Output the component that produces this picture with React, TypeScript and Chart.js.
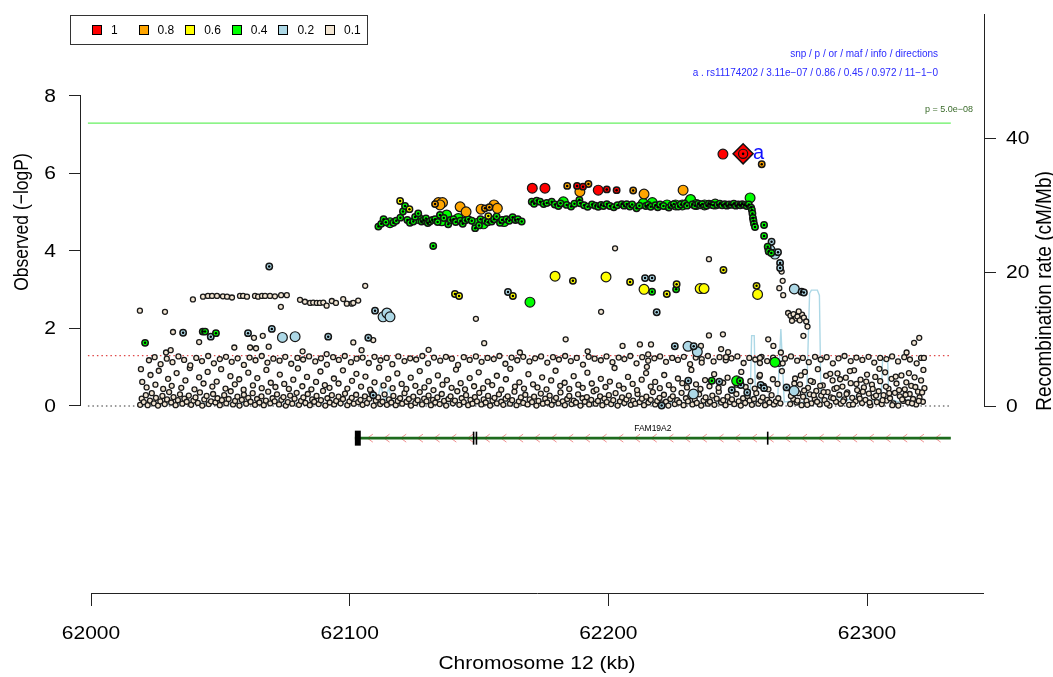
import React, { useEffect, useRef } from "react";
import { Chart, registerables } from "chart.js";

Chart.register(...registerables);

const FONT = "'Liberation Sans', Arial, Helvetica, sans-serif";
const TEXT_STRETCH = 1.2;

// Axis ticks and titles
const xTicks = [62000, 62100, 62200, 62300];
const logPTicks = [0, 2, 4, 6, 8];
const recombTicks = [0, 20, 40];
const xTitle = "Chromosome 12 (kb)";
const logPTitle = "Observed (−logP)";
const recombTitle = "Recombination rate (cM/Mb)";

// LD (r²) bins shown in the legend, strongest first
const ldBins = ["1", "0.8", "0.6", "0.4", "0.2", "0.1"];
const ldFills = ["#ff0000", "#ffa500", "#ffff00", "#00ff00", "#add8e6", "#f3e6d3"];

// Index SNP and its summary statistics
const indexTag = "a";
const indexSnp = "rs11174202";
const indexPos = 62252.1;
const indexP = 3.11e-7;
const indexOr = "0.86";
const indexMaf = "0.45";
const indexInfo = "0.972";
const indexDirections = "11−1−0";

// Reference significance levels, drawn across the locus window
const gwsP = 5.0e-8;
const nominalP = 0.05;
const windowStart = 61998.8;
const windowEnd = 62332.4;

// Gene model (kb)
const geneName = "FAM19A2";
const geneStart = 62102.0;
const geneEnd = 62332.4;
const geneExons = [
  [62102.0, 62104.3],
  [62147.6, 62148.1],
  [62148.7, 62149.2],
  [62261.3, 62261.8],
];

// Recombination rate (cM/Mb)
const recombPos = [
  62018.0, 62025.0, 62032.0, 62040.0, 62046.0, 62050.0, 62053.0, 62060.0, 62066.0, 62072.0,
  62078.0, 62086.0, 62094.0, 62100.0, 62106.0, 62109.0, 62110.5, 62112.0, 62113.5, 62115.0,
  62117.0, 62124.0, 62135.0, 62145.0, 62155.0, 62165.0, 62175.0, 62185.0, 62195.0, 62205.0,
  62215.0, 62225.0, 62235.0, 62245.0, 62254.8, 62255.4, 62256.4, 62256.9, 62262.0, 62265.4,
  62266.7, 62268.0, 62272.0, 62274.0, 62276.6, 62277.8, 62278.5, 62280.8, 62281.6, 62282.2,
  62288.0, 62292.0, 62296.0, 62300.0, 62305.5, 62306.0, 62308.0, 62308.4, 62312.0, 62318.0,
  62322.0,
];
const recombRate = [
  0.1, 0.3, 0.2, 0.6, 0.2, 1.3, 0.3, 0.4, 0.2, 0.9,
  0.3, 0.5, 0.2, 0.4, 0.3, 1.8, 0.4, 3.2, 0.6, 2.6,
  0.5, 0.3, 0.4, 0.2, 0.5, 0.3, 0.4, 0.2, 0.5, 0.3,
  0.4, 0.6, 0.3, 0.5, 0.4, 10.5, 10.5, 0.6, 0.4, 0.5,
  11.5, 0.6, 0.8, 0.5, 0.7, 16.8, 17.3, 17.3, 16.5, 0.9,
  1.4, 0.8, 1.6, 0.7, 1.0, 6.8, 6.8, 1.2, 0.6, 1.0,
  0.4,
];

// SNPs by LD bin: [position kb, -log10 p, genotyped (1) / imputed (0)]
const ld10 = [
  [62244.3, 6.5, 0], [62170.6, 5.62, 0], [62175.5, 5.62, 0], [62187.9, 5.68, 1], [62190.2, 5.66, 1],
  [62196.1, 5.57, 0], [62199.4, 5.59, 1], [62203.2, 5.57, 1],
];
const ld08 = [
  [62259.3, 6.24, 1], [62184.1, 5.68, 1], [62192.3, 5.73, 1], [62189.0, 5.53, 0], [62209.6, 5.56, 1],
  [62213.8, 5.47, 0], [62228.9, 5.57, 0], [62133.0, 5.21, 1], [62134.3, 5.25, 0], [62135.9, 5.25, 0],
  [62134.9, 5.19, 0], [62142.7, 5.14, 0], [62145.0, 5.01, 0], [62150.8, 5.08, 0], [62152.3, 5.10, 1],
  [62154.0, 5.13, 1], [62155.8, 5.19, 0], [62157.1, 5.10, 0],
];
const ld06 = [
  [62119.5, 5.29, 1], [62123.1, 5.08, 1], [62153.6, 4.90, 1], [62140.7, 2.89, 1], [62142.3, 2.84, 1],
  [62163.1, 2.84, 1], [62179.4, 3.35, 0], [62186.3, 3.23, 1], [62199.1, 3.33, 0], [62208.4, 3.20, 1],
  [62213.8, 3.01, 0], [62222.6, 2.89, 1], [62226.4, 3.14, 1], [62235.5, 3.03, 0], [62237.0, 3.03, 0],
  [62244.5, 3.51, 1], [62257.3, 3.10, 1], [62257.7, 2.88, 0],
];
const ld04 = [
  [62020.9, 1.63, 1], [62043.2, 1.92, 1], [62044.1, 1.92, 1], [62048.3, 1.88, 1], [62132.3, 4.13, 1],
  [62169.7, 2.68, 0], [62216.9, 2.95, 1], [62226.2, 3.01, 1], [62240.0, 0.65, 1], [62249.6, 0.65, 0],
  [62250.9, 0.65, 1], [62264.4, 1.13, 0],
  [62111.1, 4.63, 1], [62112.2, 4.70, 1], [62113.1, 4.82, 1], [62114.0, 4.74, 1], [62115.6, 4.73, 0],
  [62116.9, 4.73, 1], [62118.0, 4.78, 1], [62119.6, 4.86, 1], [62120.6, 5.02, 1], [62121.4, 5.16, 1],
  [62122.3, 4.80, 1], [62123.3, 4.73, 1], [62124.6, 4.76, 1], [62125.3, 4.88, 1], [62126.5, 4.97, 1],
  [62126.5, 4.84, 0], [62127.8, 4.76, 1], [62128.6, 4.80, 1], [62129.5, 4.84, 1], [62130.2, 4.72, 1],
  [62131.0, 4.76, 1], [62132.0, 4.80, 1], [62133.0, 4.82, 1], [62134.0, 4.75, 1], [62134.9, 4.93, 1],
  [62135.6, 4.78, 0], [62136.4, 4.85, 1], [62137.5, 4.93, 0], [62138.1, 4.69, 1], [62139.0, 4.80, 1],
  [62140.1, 4.82, 1], [62141.0, 4.75, 1], [62142.0, 4.84, 0], [62142.8, 4.78, 1], [62143.7, 4.70, 1],
  [62144.6, 4.79, 1], [62145.9, 4.82, 1], [62147.2, 4.78, 1], [62148.5, 4.59, 1], [62149.2, 4.71, 0],
  [62150.0, 4.66, 1], [62150.6, 4.82, 1], [62151.7, 4.70, 0], [62152.4, 4.78, 1], [62153.4, 4.74, 1],
  [62154.9, 4.76, 1], [62155.8, 4.82, 1], [62156.8, 4.89, 1], [62158.1, 4.73, 1], [62158.9, 4.80, 1],
  [62159.7, 4.76, 0], [62160.6, 4.82, 1], [62161.7, 4.78, 1], [62163.0, 4.87, 1], [62164.1, 4.80, 1],
  [62165.0, 4.82, 1], [62166.5, 4.76, 1],
  [62170.4, 5.27, 1], [62171.3, 5.22, 1], [62172.3, 5.30, 1], [62173.6, 5.27, 1], [62175.0, 5.21, 1],
  [62176.2, 5.24, 1], [62178.1, 5.27, 1], [62179.3, 5.20, 1], [62180.7, 5.16, 1], [62181.5, 5.23, 1],
  [62182.6, 5.27, 0], [62183.9, 5.19, 1], [62185.6, 5.15, 1], [62186.9, 5.22, 1], [62188.8, 5.32, 1],
  [62189.1, 5.23, 1], [62190.6, 5.18, 1], [62192.0, 5.14, 1], [62193.7, 5.20, 1], [62195.0, 5.17, 1],
  [62196.1, 5.14, 1], [62197.2, 5.19, 1], [62198.1, 5.16, 1], [62199.4, 5.21, 1], [62200.6, 5.16, 1],
  [62202.1, 5.13, 1], [62203.5, 5.18, 1], [62205.2, 5.21, 1], [62206.1, 5.17, 1], [62207.1, 5.21, 1],
  [62208.3, 5.15, 1], [62209.2, 5.20, 1], [62210.9, 5.10, 1], [62212.0, 5.17, 1], [62213.5, 5.23, 0],
  [62214.5, 5.16, 1], [62215.4, 5.19, 1], [62216.4, 5.14, 1], [62217.0, 5.25, 0], [62218.2, 5.18, 1],
  [62219.1, 5.13, 1], [62220.0, 5.20, 1], [62221.3, 5.16, 1], [62222.7, 5.19, 0], [62223.4, 5.12, 1],
  [62224.4, 5.18, 1], [62225.3, 5.21, 1], [62226.0, 5.19, 0], [62227.0, 5.15, 1], [62228.0, 5.20, 1],
  [62228.6, 5.19, 0], [62229.5, 5.22, 1], [62230.4, 5.17, 1], [62231.3, 5.27, 0], [62231.8, 5.33, 0],
  [62232.5, 5.20, 1], [62233.4, 5.17, 1], [62234.0, 5.20, 0], [62234.8, 5.22, 1], [62235.6, 5.18, 1],
  [62236.3, 5.21, 1], [62237.2, 5.19, 0], [62238.0, 5.17, 1], [62238.9, 5.22, 1], [62239.7, 5.20, 1],
  [62240.5, 5.18, 1], [62241.3, 5.21, 0], [62242.2, 5.19, 1], [62243.1, 5.22, 1], [62244.0, 5.18, 1],
  [62245.0, 5.21, 1], [62245.8, 5.17, 1], [62246.7, 5.20, 1], [62247.6, 5.19, 1], [62248.5, 5.22, 1],
  [62249.3, 5.17, 1], [62250.2, 5.20, 1], [62251.0, 5.18, 1], [62251.8, 5.21, 1], [62252.6, 5.19, 1],
  [62253.5, 5.16, 1], [62254.3, 5.20, 1], [62254.8, 5.37, 0], [62255.2, 5.12, 1],
  [62255.5, 5.06, 1], [62255.7, 4.97, 1], [62255.9, 4.85, 1], [62256.1, 4.78, 1], [62256.3, 4.70, 1],
  [62256.7, 4.62, 1], [62260.2, 4.67, 1], [62260.2, 4.39, 1], [62261.6, 4.11, 1], [62262.0, 3.99, 1],
  [62263.0, 3.95, 1],
];
const ld02 = [
  [62035.6, 1.89, 1], [62046.3, 1.79, 1], [62060.7, 1.88, 1], [62069.9, 1.99, 1], [62074.0, 1.77, 0],
  [62078.9, 1.79, 0], [62068.9, 3.60, 1], [62109.8, 2.46, 1], [62112.9, 2.30, 0], [62114.4, 2.40, 0],
  [62115.6, 2.30, 0], [62091.7, 1.79, 1], [62107.2, 1.76, 1], [62109.1, 0.28, 1], [62161.2, 2.94, 1],
  [62214.2, 3.30, 1], [62216.9, 3.30, 1], [62218.7, 2.42, 1], [62225.7, 1.54, 1], [62230.8, 1.54, 0],
  [62233.0, 1.54, 1], [62234.4, 1.40, 0], [62230.9, 0.65, 1], [62232.9, 0.31, 0], [62242.9, 0.63, 1],
  [62247.7, 0.41, 1], [62251.2, 0.54, 1], [62253.7, 0.35, 1], [62258.9, 0.54, 1], [62260.2, 0.46, 1],
  [62268.9, 0.48, 1], [62271.8, 0.39, 0], [62220.6, 0.01, 1], [62263.1, 4.24, 1], [62266.4, 3.69, 1],
  [62266.4, 3.56, 1], [62271.9, 3.02, 0], [62274.7, 2.95, 1], [62275.6, 2.93, 1], [62262.5, 4.03, 0],
  [62264.4, 3.92, 0], [62265.6, 3.97, 1],
];

// Weakly linked SNPs (r² < 0.1), [position kb, -log10 p]
const bgLow = [
  [62019.0, 0.03], [62019.6, 0.19], [62020.4, 0.10], [62021.2, 0.28], [62021.9, 0.02], [62022.8, 0.14],
  [62023.5, 0.33], [62024.3, 0.07], [62025.1, 0.21], [62025.9, 0.01], [62026.8, 0.12], [62027.6, 0.26],
  [62028.5, 0.05], [62029.4, 0.17], [62030.2, 0.36], [62031.0, 0.09], [62031.9, 0.23], [62032.7, 0.02],
  [62033.6, 0.15], [62034.4, 0.30], [62035.3, 0.06], [62036.1, 0.19], [62037.0, 0.11], [62037.8, 0.27],
  [62038.7, 0.03], [62039.6, 0.14], [62040.4, 0.22], [62041.3, 0.08], [62042.1, 0.35], [62043.0, 0.01],
  [62043.8, 0.17], [62044.7, 0.26], [62045.5, 0.05], [62046.4, 0.12], [62047.2, 0.31], [62048.1, 0.09],
  [62048.9, 0.20], [62049.8, 0.02], [62050.6, 0.15], [62051.5, 0.28], [62052.3, 0.07], [62053.2, 0.18],
  [62054.0, 0.38], [62054.9, 0.04], [62055.7, 0.13], [62056.6, 0.24], [62057.4, 0.01], [62058.3, 0.16],
  [62059.1, 0.29], [62060.0, 0.06], [62060.8, 0.21], [62061.7, 0.11], [62062.5, 0.33], [62063.4, 0.03],
  [62064.2, 0.18], [62065.1, 0.09], [62065.9, 0.25], [62066.8, 0.02], [62067.6, 0.14], [62068.5, 0.37],
  [62069.3, 0.07], [62070.2, 0.20], [62071.0, 0.12], [62071.9, 0.30], [62072.7, 0.04], [62073.6, 0.16],
  [62074.4, 0.23], [62075.3, 0.01], [62076.1, 0.10], [62077.0, 0.27], [62077.8, 0.06], [62078.7, 0.19],
  [62079.5, 0.34], [62080.4, 0.03], [62081.2, 0.13], [62082.1, 0.22], [62082.9, 0.08], [62083.8, 0.31],
  [62084.6, 0.02], [62085.5, 0.17], [62086.3, 0.11], [62087.2, 0.26], [62088.0, 0.05], [62088.9, 0.15],
  [62089.7, 0.39], [62090.6, 0.01], [62091.4, 0.20], [62092.3, 0.09], [62093.1, 0.28], [62094.0, 0.04],
  [62094.8, 0.13], [62095.7, 0.24], [62096.5, 0.07], [62097.4, 0.18], [62098.2, 0.32], [62099.1, 0.02],
  [62099.9, 0.12], [62100.8, 0.21], [62101.6, 0.06], [62102.5, 0.29], [62103.3, 0.10], [62104.2, 0.16],
  [62105.0, 0.03], [62105.9, 0.25], [62106.7, 0.08], [62107.6, 0.19], [62108.4, 0.35], [62109.3, 0.01],
  [62110.1, 0.14], [62111.0, 0.22], [62111.8, 0.05], [62112.7, 0.11], [62113.5, 0.30], [62114.4, 0.03],
  [62115.2, 0.17], [62116.1, 0.09], [62116.9, 0.26], [62117.8, 0.02], [62118.6, 0.13], [62119.5, 0.20],
  [62120.3, 0.06], [62121.2, 0.33], [62122.0, 0.11], [62122.9, 0.18], [62123.7, 0.01], [62124.6, 0.24],
  [62125.4, 0.08], [62126.3, 0.15], [62127.1, 0.36], [62128.0, 0.04], [62128.8, 0.19], [62129.7, 0.12],
  [62130.5, 0.27], [62131.4, 0.02], [62132.2, 0.16], [62133.1, 0.09], [62133.9, 0.22], [62134.8, 0.05],
  [62135.6, 0.31], [62136.5, 0.13], [62137.3, 0.01], [62138.2, 0.18], [62139.0, 0.25], [62139.9, 0.07],
  [62140.7, 0.14], [62141.6, 0.38], [62142.4, 0.03], [62143.3, 0.20], [62144.1, 0.10], [62145.0, 0.28],
  [62145.8, 0.02], [62146.7, 0.16], [62147.5, 0.06], [62148.4, 0.23], [62149.2, 0.12], [62150.1, 0.34],
  [62150.9, 0.04], [62151.8, 0.17], [62152.6, 0.09], [62153.5, 0.26], [62154.3, 0.01], [62155.2, 0.14],
  [62156.0, 0.21], [62156.9, 0.07], [62157.7, 0.30], [62158.6, 0.11], [62159.4, 0.03], [62160.3, 0.19],
  [62161.1, 0.25], [62162.0, 0.06], [62162.8, 0.15], [62163.7, 0.37], [62164.5, 0.02], [62165.4, 0.12],
  [62166.2, 0.22], [62167.1, 0.08], [62167.9, 0.29], [62168.8, 0.04], [62169.6, 0.17], [62170.5, 0.10],
  [62171.3, 0.24], [62172.2, 0.01], [62173.0, 0.13], [62173.9, 0.32], [62174.7, 0.06], [62175.6, 0.19],
  [62176.4, 0.09], [62177.3, 0.27], [62178.1, 0.03], [62179.0, 0.15], [62179.8, 0.21], [62180.7, 0.07],
  [62181.5, 0.35], [62182.4, 0.12], [62183.2, 0.02], [62184.1, 0.18], [62184.9, 0.26], [62185.8, 0.05],
  [62186.6, 0.14], [62187.5, 0.09], [62188.3, 0.30], [62189.2, 0.01], [62190.0, 0.20], [62190.9, 0.11],
  [62191.7, 0.23], [62192.6, 0.04], [62193.4, 0.16], [62194.3, 0.38], [62195.1, 0.06], [62196.0, 0.13],
  [62196.8, 0.25], [62197.7, 0.02], [62198.5, 0.19], [62199.4, 0.10], [62200.2, 0.28], [62201.1, 0.05],
  [62201.9, 0.15], [62202.8, 0.33], [62203.6, 0.01], [62204.5, 0.12], [62205.3, 0.22], [62206.2, 0.08],
  [62207.0, 0.17], [62207.9, 0.27], [62208.7, 0.03], [62209.6, 0.14], [62210.4, 0.06], [62211.3, 0.31],
  [62212.1, 0.10], [62213.0, 0.19], [62213.8, 0.02], [62214.7, 0.24], [62215.5, 0.09], [62216.4, 0.16],
  [62217.2, 0.36], [62218.1, 0.04], [62218.9, 0.13], [62219.8, 0.21], [62220.6, 0.07], [62221.5, 0.29],
  [62222.3, 0.11], [62223.2, 0.01], [62224.0, 0.18], [62224.9, 0.25], [62225.7, 0.05], [62226.6, 0.15],
  [62227.4, 0.09], [62228.3, 0.34], [62229.1, 0.02], [62230.0, 0.20], [62230.8, 0.12], [62231.7, 0.26],
  [62232.5, 0.04], [62233.4, 0.17], [62234.2, 0.08], [62235.1, 0.30], [62235.9, 0.01], [62236.8, 0.14],
  [62237.6, 0.22], [62238.5, 0.06], [62239.3, 0.11], [62240.2, 0.27], [62241.0, 0.03], [62241.9, 0.19],
  [62242.7, 0.37], [62243.6, 0.09], [62244.4, 0.15], [62245.3, 0.02], [62246.1, 0.24], [62247.0, 0.10],
  [62247.8, 0.17], [62248.7, 0.05], [62249.5, 0.31], [62250.4, 0.12], [62251.2, 0.01], [62252.1, 0.20],
  [62252.9, 0.08], [62253.8, 0.26], [62254.6, 0.14], [62255.5, 0.03], [62256.3, 0.18], [62257.2, 0.33],
  [62258.0, 0.06], [62258.9, 0.13], [62259.7, 0.22], [62260.6, 0.02], [62261.4, 0.16], [62262.3, 0.09],
  [62263.1, 0.28], [62264.0, 0.04], [62264.8, 0.12], [62265.7, 0.20], [62266.5, 0.07],
];
const bgMid = [
  [62019.8, 0.62], [62021.5, 0.48], [62023.0, 0.80], [62024.9, 0.55], [62026.2, 0.91], [62027.9, 0.44],
  [62029.8, 0.70], [62031.2, 0.52], [62033.1, 0.85], [62034.9, 0.47], [62036.5, 0.66], [62038.2, 0.98],
  [62040.0, 0.43], [62041.8, 0.74], [62043.5, 0.58], [62045.1, 0.88], [62046.9, 0.50], [62048.6, 0.63],
  [62050.3, 0.95], [62052.0, 0.45], [62053.9, 0.77], [62055.6, 0.56], [62057.3, 0.69], [62059.0, 0.42],
  [62060.8, 0.86], [62062.6, 0.53], [62064.3, 0.72], [62066.0, 0.46], [62067.8, 0.93], [62069.5, 0.60],
  [62071.3, 0.49], [62073.0, 0.81], [62074.7, 0.57], [62076.5, 0.44], [62078.2, 0.68], [62080.0, 0.97],
  [62081.7, 0.51], [62083.5, 0.75], [62085.2, 0.43], [62087.0, 0.62], [62088.7, 0.89], [62090.4, 0.54],
  [62092.2, 0.47], [62093.9, 0.71], [62095.7, 0.58], [62097.4, 0.92], [62099.1, 0.45], [62100.9, 0.65],
  [62102.6, 0.83], [62104.4, 0.50], [62106.1, 0.76], [62107.9, 0.42], [62109.6, 0.61], [62111.4, 0.99],
  [62113.1, 0.53], [62114.9, 0.70], [62116.6, 0.46], [62118.4, 0.84], [62120.1, 0.57], [62121.9, 0.44],
  [62123.6, 0.73], [62125.4, 0.52], [62127.1, 0.90], [62128.9, 0.48], [62130.6, 0.64], [62132.4, 0.41],
  [62134.1, 0.79], [62135.9, 0.55], [62137.6, 0.67], [62139.4, 0.47], [62141.1, 0.94], [62142.9, 0.59],
  [62144.6, 0.43], [62146.4, 0.72], [62148.1, 0.51], [62149.9, 0.87], [62151.6, 0.46], [62153.4, 0.63],
  [62155.1, 0.54], [62156.9, 0.78], [62158.6, 0.42], [62160.4, 0.69], [62162.1, 0.96], [62163.9, 0.50],
  [62165.6, 0.61], [62167.4, 0.45], [62169.1, 0.82], [62170.9, 0.56], [62172.6, 0.48], [62174.4, 0.74],
  [62176.1, 0.43], [62177.9, 0.66], [62179.6, 0.91], [62181.4, 0.52], [62183.1, 0.60], [62184.9, 0.44],
  [62186.6, 0.77], [62188.4, 0.55], [62190.1, 0.47], [62191.9, 0.86], [62193.6, 0.58], [62195.4, 0.42],
  [62197.1, 0.70], [62198.9, 0.49], [62200.6, 0.63], [62202.4, 0.98], [62204.1, 0.53], [62205.9, 0.45],
  [62207.6, 0.75], [62209.4, 0.57], [62211.1, 0.41], [62212.9, 0.68], [62214.6, 0.85], [62216.4, 0.50],
  [62218.1, 0.62], [62219.9, 0.46], [62221.6, 0.80], [62223.4, 0.54], [62225.1, 0.43], [62226.9, 0.71],
  [62228.6, 0.59], [62230.4, 0.48], [62232.1, 0.93], [62233.9, 0.56], [62235.6, 0.44], [62237.4, 0.67],
  [62239.1, 0.51], [62240.9, 0.82], [62242.6, 0.47], [62244.4, 0.60], [62246.1, 0.73], [62247.9, 0.42],
  [62249.6, 0.55], [62251.4, 0.88], [62253.1, 0.49], [62254.9, 0.64], [62256.6, 0.45], [62258.4, 0.76],
  [62260.1, 0.52], [62261.9, 0.43], [62263.6, 0.69], [62265.4, 0.57], [62267.1, 0.90], [62268.9, 0.47],
];
const bgBand = [
  [62022.4, 1.18], [62024.6, 1.26], [62026.9, 1.08], [62029.3, 1.22], [62031.5, 1.13], [62033.8, 1.28],
  [62036.0, 1.19], [62038.4, 1.05], [62040.7, 1.24], [62042.9, 1.16], [62045.3, 1.29], [62047.5, 1.10],
  [62049.8, 1.21], [62052.2, 1.27], [62054.4, 1.14], [62056.7, 1.23], [62059.1, 1.06], [62061.3, 1.25],
  [62063.6, 1.18], [62066.0, 1.29], [62068.2, 1.12], [62070.5, 1.22], [62072.9, 1.17], [62075.1, 1.27],
  [62077.4, 1.09], [62079.8, 1.24], [62082.0, 1.20], [62084.3, 1.28], [62086.7, 1.15], [62088.9, 1.23],
  [62091.2, 1.07], [62093.6, 1.26], [62095.8, 1.19], [62098.1, 1.29], [62100.5, 1.13], [62102.7, 1.22],
  [62105.0, 1.25], [62107.4, 1.11], [62109.6, 1.27], [62111.9, 1.18], [62114.3, 1.24], [62116.5, 1.08],
  [62118.8, 1.28], [62121.2, 1.16], [62123.4, 1.23], [62125.7, 1.20], [62128.1, 1.29], [62130.3, 1.10],
  [62132.6, 1.25], [62135.0, 1.17], [62137.2, 1.27], [62139.5, 1.22], [62141.9, 1.06], [62144.1, 1.26],
  [62146.4, 1.19], [62148.8, 1.28], [62151.0, 1.14], [62153.3, 1.24], [62155.7, 1.21], [62157.9, 1.29],
  [62160.2, 1.09], [62162.6, 1.25], [62164.8, 1.18], [62167.1, 1.27], [62169.5, 1.15], [62171.7, 1.23],
  [62174.0, 1.28], [62176.4, 1.12], [62178.6, 1.26], [62180.9, 1.20], [62183.3, 1.29], [62185.5, 1.16],
  [62187.8, 1.24], [62190.2, 1.07], [62192.4, 1.27], [62194.7, 1.22], [62197.1, 1.18], [62199.3, 1.28],
  [62201.6, 1.13], [62204.0, 1.25], [62206.2, 1.21], [62208.5, 1.29], [62210.9, 1.10], [62213.1, 1.26],
  [62215.4, 1.17], [62217.8, 1.23], [62220.0, 1.28], [62222.3, 1.14], [62224.7, 1.24], [62226.9, 1.19],
  [62229.2, 1.27], [62231.6, 1.08], [62233.8, 1.25], [62236.1, 1.21], [62238.5, 1.29], [62240.7, 1.15],
  [62243.0, 1.26], [62245.4, 1.18], [62247.6, 1.23], [62249.9, 1.28], [62252.3, 1.11], [62254.5, 1.24],
  [62256.8, 1.20], [62259.2, 1.27], [62261.4, 1.16], [62263.7, 1.25], [62266.1, 1.09], [62268.3, 1.22],
  [62270.6, 1.28], [62273.0, 1.17], [62275.2, 1.24], [62277.5, 1.13], [62279.9, 1.27], [62282.1, 1.20],
  [62284.4, 1.26], [62286.8, 1.10], [62289.0, 1.23], [62291.3, 1.29], [62293.7, 1.16], [62295.9, 1.25],
  [62298.2, 1.19], [62300.6, 1.27], [62302.8, 1.12], [62305.1, 1.24], [62307.5, 1.21], [62309.7, 1.28],
  [62312.0, 1.15], [62314.4, 1.26], [62316.6, 1.20],
];
const bgRight = [
  [62270.3, 0.05], [62270.9, 0.42], [62271.5, 0.18], [62272.2, 0.71], [62272.8, 0.09], [62273.4, 0.33],
  [62274.1, 0.56], [62274.7, 0.02], [62275.3, 0.24], [62276.0, 0.88], [62276.6, 0.13], [62277.2, 0.47],
  [62277.9, 0.30], [62278.5, 0.07], [62279.1, 0.62], [62279.8, 0.19], [62280.4, 0.39], [62281.0, 0.95],
  [62281.7, 0.04], [62282.3, 0.27], [62282.9, 0.53], [62283.6, 0.15], [62284.2, 0.78], [62284.8, 0.36],
  [62285.5, 0.01], [62286.1, 0.22], [62286.7, 0.66], [62287.4, 0.44], [62288.0, 0.11], [62288.6, 0.84],
  [62289.3, 0.29], [62289.9, 0.06], [62290.5, 0.50], [62291.2, 0.17], [62291.8, 0.73], [62292.4, 0.35],
  [62293.1, 0.03], [62293.7, 0.59], [62294.3, 0.21], [62295.0, 0.92], [62295.6, 0.12], [62296.2, 0.41],
  [62296.9, 0.26], [62297.5, 0.68], [62298.1, 0.08], [62298.8, 0.48], [62299.4, 0.16], [62300.0, 0.81],
  [62300.7, 0.32], [62301.3, 0.02], [62301.9, 0.55], [62302.6, 0.23], [62303.2, 0.75], [62303.8, 0.10],
  [62304.5, 0.38], [62305.1, 0.64], [62305.7, 0.05], [62306.4, 0.28], [62307.0, 0.87], [62307.6, 0.14],
  [62308.3, 0.45], [62308.9, 0.20], [62309.5, 0.70], [62310.2, 0.07], [62310.8, 0.34], [62311.4, 0.58],
  [62312.1, 0.01], [62312.7, 0.25], [62313.3, 0.79], [62314.0, 0.13], [62314.6, 0.43], [62315.2, 0.61],
  [62315.9, 0.09], [62316.5, 0.31], [62317.1, 0.52], [62317.8, 0.18], [62318.4, 0.74], [62319.0, 0.04],
  [62319.7, 0.37], [62320.3, 0.22], [62320.9, 0.66], [62321.6, 0.11], [62322.2, 0.46],
  [62270.6, 0.26], [62271.9, 0.58], [62273.1, 0.14], [62274.4, 0.79], [62275.7, 0.40], [62276.9, 0.03],
  [62278.2, 0.65], [62279.4, 0.28], [62280.7, 0.11], [62281.9, 0.52], [62283.2, 0.36], [62284.5, 0.06],
  [62285.8, 0.83], [62287.0, 0.20], [62288.3, 0.47], [62289.6, 0.69], [62290.8, 0.12], [62292.1, 0.31],
  [62293.4, 0.90], [62294.6, 0.04], [62295.9, 0.57], [62297.2, 0.19], [62298.4, 0.37], [62299.7, 0.63],
  [62301.0, 0.09], [62302.2, 0.44], [62303.5, 0.27], [62304.8, 0.96], [62306.0, 0.15], [62307.3, 0.50],
  [62308.6, 0.33], [62309.8, 0.02], [62311.1, 0.76], [62312.4, 0.41], [62313.6, 0.17], [62314.9, 0.29],
  [62316.2, 0.85], [62317.4, 0.07], [62318.7, 0.49], [62320.0, 0.13], [62321.3, 0.35],
];
const bgUpper = [
  [62018.9, 2.46], [62028.6, 2.43], [62019.3, 0.95],
  [62039.4, 2.75], [62043.3, 2.82], [62045.2, 2.84], [62046.8, 2.84], [62048.7, 2.84], [62051.0, 2.83],
  [62052.6, 2.82], [62054.5, 2.80], [62057.6, 2.84], [62058.8, 2.84], [62060.3, 2.82], [62063.4, 2.84],
  [62064.6, 2.82], [62066.1, 2.84], [62067.3, 2.84], [62069.2, 2.84], [62071.1, 2.83], [62073.5, 2.86],
  [62073.4, 2.56], [62075.7, 2.86],
  [62080.8, 2.74], [62082.7, 2.69], [62084.7, 2.66], [62085.9, 2.67], [62087.3, 2.66], [62088.5, 2.66],
  [62089.8, 2.67], [62091.1, 2.59], [62093.1, 2.71], [62094.7, 2.66], [62097.5, 2.76], [62098.9, 2.64],
  [62100.8, 2.64], [62101.4, 2.66], [62103.3, 2.72], [62106.0, 3.10],
  [62031.7, 1.91], [62041.8, 1.65], [62055.4, 1.51], [62063.0, 1.76], [62066.4, 1.81], [62081.8, 1.41],
  [62091.1, 1.34], [62101.4, 1.64], [62104.6, 1.44], [62109.1, 1.70], [62029.0, 1.38], [62030.8, 1.44],
  [62061.5, 1.51], [62063.8, 1.49], [62068.7, 1.53],
  [62148.8, 2.25], [62197.2, 2.43], [62202.6, 4.07], [62238.9, 3.79],
  [62130.5, 1.45], [62152.0, 1.62], [62165.8, 1.38], [62183.5, 1.72], [62192.0, 1.41], [62205.5, 1.55],
  [62267.0, 3.47], [62267.4, 3.23], [62266.1, 3.04], [62267.6, 2.86], [62269.5, 2.40], [62270.4, 2.33],
  [62271.6, 2.37], [62272.4, 2.26], [62273.1, 2.31], [62274.0, 2.21], [62274.9, 2.36], [62275.6, 2.28],
  [62276.5, 2.18], [62277.0, 2.05], [62271.0, 2.20], [62273.6, 2.44], [62275.4, 1.81], [62261.8, 1.72],
  [62263.8, 1.55], [62266.7, 1.38], [62267.4, 1.10], [62258.6, 1.24], [62258.6, 1.11], [62258.6, 0.80],
  [62238.9, 1.82], [62244.3, 1.85], [62212.2, 1.59], [62216.5, 1.59], [62235.8, 1.55], [62243.6, 1.47],
  [62246.3, 1.39], [62245.5, 1.26], [62215.4, 1.33], [62214.9, 1.01], [62236.1, 1.12],
  [62315.3, 1.38], [62318.2, 1.63], [62320.2, 1.76], [62319.2, 1.10], [62320.9, 1.24], [62322.0, 1.24],
  [62321.8, 0.93],
];

const formatP = (p: number, digits: number) => {
  const [m, e] = p.toExponential(digits).split("e");
  const n = parseInt(e, 10);
  return `${m}e${n < 0 ? "−" : "+"}${String(Math.abs(n)).padStart(2, "0")}`;
};

const xy = (rows: number[][]) => rows.map((r) => ({ x: r[0], y: r[1] }));

function ldLayers(rows: number[][], fill: string, order: number) {
  const imputed = rows.filter((r) => !r[2]);
  const typed = rows.filter((r) => r[2]);
  return [
    { data: xy(imputed), pointRadius: 4.9, backgroundColor: fill, borderColor: "#151515", borderWidth: 1.2, order },
    { data: xy(typed), pointRadius: 3.2, backgroundColor: fill, borderColor: "#151515", borderWidth: 1.5, order: order - 1 },
    { data: xy(typed), pointRadius: 1.25, backgroundColor: "#000", borderWidth: 0, order: order - 2 },
  ];
}

// horizontally widened text, as in the rest of the figure
function wideText(ctx: CanvasRenderingContext2D, text: string, x: number, y: number, align: CanvasTextAlign, size: number, rotate = false) {
  ctx.save();
  ctx.translate(x, y);
  if (rotate) {
    ctx.rotate(-Math.PI / 2);
    ctx.scale(1, TEXT_STRETCH);
  } else {
    ctx.scale(TEXT_STRETCH, 1);
  }
  ctx.font = `${size}px ${FONT}`;
  ctx.textAlign = align;
  ctx.textBaseline = "middle";
  ctx.fillText(text, 0, 0);
  ctx.restore();
}

const decorations = {
  id: "decorations",
  afterDraw(chart: any) {
    const { ctx, chartArea: ca, scales } = chart;
    const sx = scales.x;
    const sy = scales.y;
    const sr = scales.yR;
    const px = (v: number) => sx.getPixelForValue(v);
    const py = (v: number) => sy.getPixelForValue(v);
    const crisp = (v: number) => Math.round(v) + 0.5;
    ctx.save();

    // axis lines
    ctx.strokeStyle = "#222";
    ctx.lineWidth = 1;
    ctx.beginPath();
    ctx.moveTo(crisp(ca.left - 1), py(logPTicks[0]));
    ctx.lineTo(crisp(ca.left - 1), py(logPTicks[logPTicks.length - 1]));
    ctx.moveTo(crisp(ca.right), sr.getPixelForValue(0));
    ctx.lineTo(crisp(ca.right), ca.top);
    ctx.moveTo(px(xTicks[0]), crisp(ca.bottom));
    ctx.lineTo(ca.right, crisp(ca.bottom));
    ctx.stroke();

    // tick labels
    ctx.fillStyle = "#000";
    logPTicks.forEach((v) => wideText(ctx, String(v), 56, py(v) + 1, "right", 17.5));
    recombTicks.forEach((v) => wideText(ctx, String(v), ca.right + 22, sr.getPixelForValue(v) + 1, "left", 17.5));
    xTicks.forEach((v) => wideText(ctx, String(v), px(v), 634, "center", 17.5));

    // axis titles
    wideText(ctx, xTitle, 537, 664, "center", 17.5);
    wideText(ctx, logPTitle, 22, 222, "center", 17.5, true);
    wideText(ctx, recombTitle, 1045, 291, "center", 19, true);

    // gene track
    const gy = py(-0.83);
    const g0 = px(geneStart);
    const g1 = px(geneEnd);
    ctx.strokeStyle = "#f09090";
    ctx.lineWidth = 1;
    for (let cx = g0 + 15; cx < g1 - 8; cx += 16.7) {
      ctx.beginPath();
      ctx.moveTo(cx + 3, gy - 4);
      ctx.lineTo(cx - 2.5, gy);
      ctx.lineTo(cx + 3, gy + 4);
      ctx.stroke();
    }
    ctx.strokeStyle = "#1d6b1d";
    ctx.lineWidth = 2.6;
    ctx.beginPath();
    ctx.moveTo(g0, gy);
    ctx.lineTo(g1, gy);
    ctx.stroke();
    ctx.fillStyle = "#000";
    geneExons.forEach(([a, b], i) => {
      const x0 = px(a);
      const w = Math.max(px(b) - x0, 1.6);
      const h = i === 0 ? 7.5 : 6.5;
      ctx.fillRect(x0, gy - h, w, 2 * h);
    });
    ctx.font = `8.5px ${FONT}`;
    ctx.textAlign = "center";
    ctx.textBaseline = "alphabetic";
    ctx.fillText(geneName, (g0 + g1) / 2, gy - 7);

    // index SNP tag
    const ix = px(indexPos);
    const iy = py(-Math.log10(indexP));
    ctx.fillStyle = "#1010ff";
    ctx.font = `20px ${FONT}`;
    ctx.textAlign = "left";
    ctx.textBaseline = "middle";
    ctx.fillText(indexTag, ix + 10, iy);

    // summary statistics of the index SNP
    ctx.fillStyle = "#2b2bff";
    ctx.font = `10px ${FONT}`;
    ctx.textAlign = "right";
    ctx.fillText("snp / p / or / maf / info / directions", 938, 54);
    ctx.fillText(
      `${indexTag} . ${indexSnp} / ${formatP(indexP, 2)} / ${indexOr} / ${indexMaf} / ${indexInfo} / ${indexDirections}`,
      938,
      73
    );

    // genome-wide threshold label
    ctx.fillStyle = "#3b6b2b";
    ctx.font = `9px ${FONT}`;
    ctx.fillText(`p = ${formatP(gwsP, 1)}`, 973, py(-Math.log10(gwsP)) - 14);

    // legend
    ctx.strokeStyle = "#333";
    ctx.lineWidth = 1;
    ctx.strokeRect(70.5, 15.5, 297, 29);
    ctx.font = `12px ${FONT}`;
    ctx.textAlign = "left";
    ldBins.forEach((label, i) => {
      const sqx = 92 + i * 46.6;
      ctx.fillStyle = ldFills[i];
      ctx.fillRect(Math.round(sqx) + 0.5, 25.5, 9, 9);
      ctx.strokeStyle = "#000";
      ctx.strokeRect(Math.round(sqx) + 0.5, 25.5, 9, 9);
      ctx.fillStyle = "#000";
      ctx.fillText(label, sqx + 19, 30.5);
    });
    ctx.restore();
  },
};

const fitScale = (size: number, horizontal: boolean) => (s: any) => {
  if (horizontal) s.height = size;
  else s.width = size;
  s.paddingTop = 0;
  s.paddingBottom = 0;
  s.paddingLeft = 0;
  s.paddingRight = 0;
};

export default function App() {
  const canvasRef = useRef<HTMLCanvasElement | null>(null);

  useEffect(() => {
    const canvas = canvasRef.current;
    if (!canvas) return;
    const gws = -Math.log10(gwsP);
    const nominal = -Math.log10(nominalP);
    const indexLogP = -Math.log10(indexP);
    const bg = [...bgLow, ...bgMid, ...bgBand, ...bgRight, ...bgUpper];

    const datasets: any[] = [
      {
        data: recombPos.map((p, i) => ({ x: p, y: recombRate[i] })),
        yAxisID: "yR",
        showLine: true,
        pointRadius: 0,
        borderColor: "#add8e6",
        borderWidth: 1.4,
        order: 300,
      },
      {
        data: [{ x: windowStart, y: gws }, { x: windowEnd, y: gws }],
        showLine: true,
        pointRadius: 0,
        borderColor: "#66f060",
        borderWidth: 1.4,
        order: 290,
      },
      {
        data: [{ x: windowStart, y: nominal }, { x: windowEnd, y: nominal }],
        showLine: true,
        pointRadius: 0,
        borderColor: "#e04848",
        borderWidth: 1.2,
        borderDash: [1.5, 3],
        order: 290,
      },
      {
        data: [{ x: windowStart, y: 0 }, { x: windowEnd, y: 0 }],
        showLine: true,
        pointRadius: 0,
        borderColor: "#333",
        borderWidth: 1.2,
        borderDash: [1.5, 3],
        order: 290,
      },
      {
        data: xy(bg),
        pointRadius: 2.5,
        backgroundColor: ldFills[5],
        borderColor: "#1a1a1a",
        borderWidth: 1.3,
        order: 200,
      },
      ...ldLayers(ld02, ldFills[4], 190),
      ...ldLayers(ld04, ldFills[3], 180),
      ...ldLayers(ld06, ldFills[2], 170),
      ...ldLayers(ld08, ldFills[1], 160),
      ...ldLayers(ld10, ldFills[0], 150),
      {
        data: [{ x: indexPos, y: indexLogP }],
        pointStyle: "rectRot",
        pointRadius: 10,
        backgroundColor: ldFills[0],
        borderColor: "#111",
        borderWidth: 1.5,
        order: 140,
      },
      {
        data: [{ x: indexPos, y: indexLogP }],
        pointRadius: 4.6,
        backgroundColor: ldFills[0],
        borderColor: "#111",
        borderWidth: 1.2,
        order: 139,
      },
      {
        data: [{ x: indexPos, y: indexLogP }],
        pointRadius: 1.3,
        backgroundColor: "#000",
        borderWidth: 0,
        order: 138,
      },
    ];

    const tickMarks = { drawOnChartArea: false, drawTicks: true, tickLength: 12, color: "#222", lineWidth: 1 };
    const chart = new Chart(canvas, {
      type: "scatter",
      data: { datasets },
      options: {
        responsive: false,
        animation: false,
        devicePixelRatio: 1,
        events: [],
        layout: { padding: { top: 14, left: 0, right: 0, bottom: 0 } },
        plugins: { legend: { display: false }, tooltip: { enabled: false } },
        scales: {
          x: {
            type: "linear",
            position: "bottom",
            min: 61996.13,
            max: 62345.23,
            afterBuildTicks: (s: any) => {
              s.ticks = xTicks.map((v) => ({ value: v }));
            },
            afterFit: fitScale(84, true),
            border: { display: false },
            grid: { ...tickMarks, tickLength: 13 },
            ticks: { display: false },
          },
          y: {
            type: "linear",
            position: "left",
            min: -4.826,
            max: 10.116,
            afterBuildTicks: (s: any) => {
              s.ticks = logPTicks.map((v) => ({ value: v }));
            },
            afterFit: fitScale(81, false),
            border: { display: false },
            grid: tickMarks,
            ticks: { display: false },
          },
          yR: {
            type: "linear",
            position: "right",
            min: -27.91,
            max: 58.51,
            afterBuildTicks: (s: any) => {
              s.ticks = recombTicks.map((v) => ({ value: v }));
            },
            afterFit: fitScale(69, false),
            border: { display: false },
            grid: tickMarks,
            ticks: { display: false },
          },
        },
      },
      plugins: [decorations],
    });
    return () => chart.destroy();
  }, []);

  return (
    <div style={{ position: "absolute", left: 0, top: 0, width: 1053, height: 677, background: "#fff" }}>
      <canvas ref={canvasRef} width={1053} height={677} style={{ display: "block" }} />
    </div>
  );
}
